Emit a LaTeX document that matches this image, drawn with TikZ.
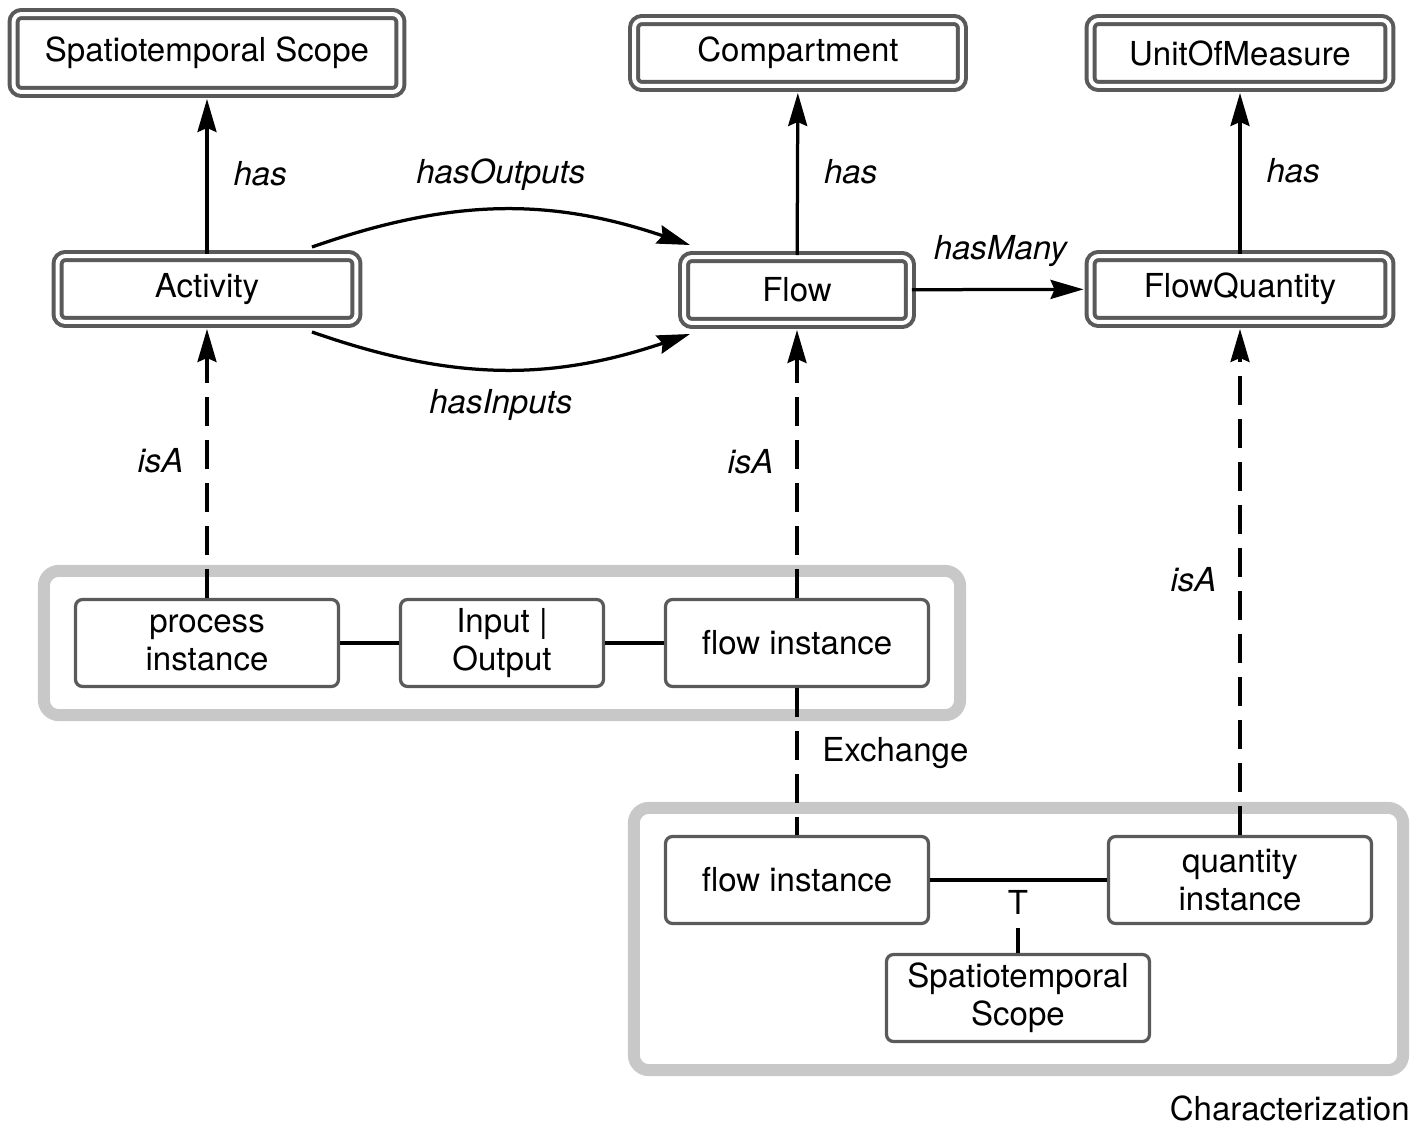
\documentclass[tikz,border=0pt]{standalone}
\usepackage{fontspec}
\setmainfont{TeX Gyre Heros}
\usepackage{xcolor}
\usepackage{tikz}
\usetikzlibrary{arrows.meta,positioning,calc,fit}
\definecolor{ontoEdge}{HTML}{5A5A5A}
\definecolor{ontoFrame}{HTML}{C8C8C8}
\definecolor{ontoInk}{HTML}{000000}

\begin{document}
\begin{tikzpicture}[
  x=0.02cm,y=0.02cm,
  font=\fontsize{18.8pt}{21.6pt}\selectfont,
  cls/.style={draw=ontoEdge,line width=0.08cm,double=white,double distance=0.08cm,rounded corners=0.16cm,minimum height=1.32cm,inner sep=0pt,align=center},
  inst/.style={draw=ontoEdge,line width=0.065cm,fill=white,rounded corners=0.14cm,minimum width=5.26cm,minimum height=1.74cm,inner sep=0pt,align=center},
  grp/.style={draw=ontoFrame,line width=0.24cm,rounded corners=0.3cm,inner xsep=0.6cm,inner ysep=0.54cm},
  arr/.style={-{Stealth[length=0.66cm,width=0.38cm,inset=0.08cm]},line width=0.065cm,ontoInk,shorten >=0.1cm},
  isa/.style={arr,dash pattern=on 0.58cm off 0.28cm},
  lnk/.style={line width=0.065cm,ontoInk},
  lbl/.style={font=\fontsize{18.8pt}{21.6pt}\selectfont\itshape,inner sep=0pt}
]
\useasboundingbox (0,0) rectangle (1417,-1125);

% classes
\node[cls,minimum width=7.74cm,minimum height=1.56cm] (scope) at (207,-53)  {Spatiotemporal Scope};
\node[cls,minimum width=6.56cm] (comp) at (798,-53)  {Compartment};
\node[cls,minimum width=5.98cm] (unit) at (1240,-53) {UnitOfMeasure};
\node[cls,minimum width=5.98cm] (act)  at (207,-289) {Activity};
\node[cls,minimum width=4.52cm] (flow) at (797,-290) {Flow};
\node[cls,minimum width=5.98cm] (fq)   at (1240,-289) {FlowQuantity};

% exchange
\node[inst] (proc) at (207,-643) {process\\instance};
\node[inst,minimum width=4.06cm] (io) at (502,-643) {Input |\\Output};
\node[inst] (fiex) at (797,-643) {flow instance};
\node[grp,fit=(proc)(fiex)] (exch) {};
\node[anchor=west,inner sep=0pt] (exlab) at (822,-753) {Exchange};

% characterization
\node[inst] (fich) at (797,-880) {flow instance};
\node[inst] (qty)  at (1240,-880) {quantity\\instance};
\node[inst] (stsc) at (1018,-998) {Spatiotemporal\\Scope};
\node[grp,fit=(fich)(qty)(stsc)] (char) {};
\node[anchor=east,inner sep=0pt] (chlab) at (1410,-1108) {Characterization};

\node[inner sep=0pt] (tmark) at (1018,-902) {T};

% relations
\draw[arr] (act) -- node[lbl,midway,right=0.5cm] {has} (scope);
\draw[arr] (flow) -- node[lbl,midway,right=0.5cm] {has} (comp);
\draw[arr] (fq) -- node[lbl,midway,right=0.5cm] {has} (unit);
\draw[arr] (flow) -- node[lbl,midway,above=0.42cm] {hasMany} (fq);
\draw[arr,shorten >=0pt] ([shift={(2.1cm,0.14cm)}]act.north) to[bend left=19]
  node[lbl,midway,above=0.36cm] {hasOutputs} ([shift={(0.16cm,0.2cm)}]flow.north west);
\draw[arr,shorten >=0pt] ([shift={(2.1cm,-0.16cm)}]act.south) to[bend right=19]
  node[lbl,midway,below=0.38cm] {hasInputs} ([shift={(0.16cm,-0.18cm)}]flow.south west);

\draw[isa] (proc) -- node[lbl,midway,left=0.44cm] {isA} (act);
\draw[isa] (fiex) -- node[lbl,midway,left=0.44cm] {isA} (flow);
\draw[isa] (qty) -- node[lbl,midway,left=0.44cm] {isA} (fq);
\draw[lnk,dash pattern=on 0.58cm off 0.28cm] (fiex) -- (fich);

\draw[lnk] (proc) -- (io);
\draw[lnk] (io) -- (fiex);
\draw[lnk] (fich) -- (qty);
\draw[lnk,dash pattern=on 0.5cm off 0.3cm] (stsc) -- (tmark);
\end{tikzpicture}
\end{document}
